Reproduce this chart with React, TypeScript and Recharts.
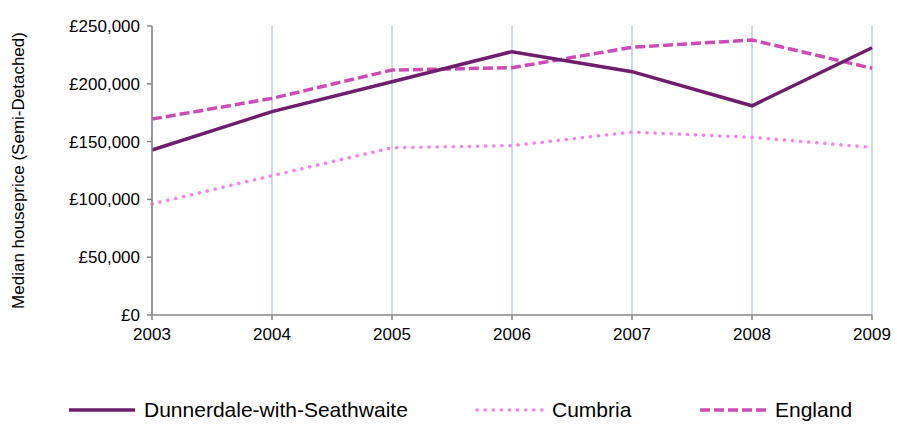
import React from 'react';
import { LineChart, Line, XAxis, YAxis, CartesianGrid, Legend } from 'recharts';

const years = ['2003', '2004', '2005', '2006', '2007', '2008', '2009'];
const dunnerdale = [142700, 175900, 201800, 227800, 210500, 181000, 231200];
const cumbria = [96000, 120500, 144700, 146500, 158300, 153700, 145000];
const england = [169500, 187400, 211900, 213900, 231600, 237900, 213400];
const yTicks = [0, 50000, 100000, 150000, 200000, 250000];

const data = years.map((y, i) => ({
  year: y,
  dunnerdale: dunnerdale[i],
  cumbria: cumbria[i],
  england: england[i],
}));

const FONT = '"Liberation Sans", Arial, sans-serif';

const fmt = (v: number) => '£' + v.toLocaleString('en-GB');

const legendItems = [
  { name: 'Dunnerdale-with-Seathwaite', color: '#6E1E6C', dash: undefined as string | undefined, cap: 'butt', left: 67 },
  { name: 'Cumbria', color: '#F47FF0', dash: '0.1 8', cap: 'round', left: 475 },
  { name: 'England', color: '#CC4BB4', dash: '10 4', cap: 'butt', left: 698 },
];

const renderLegend = () => (
  <div style={{ position: 'relative', width: 897, height: 29, fontFamily: FONT, fontSize: 21, color: '#000' }}>
    {legendItems.map((it) => (
      <div key={it.name} style={{ position: 'absolute', left: it.left, top: 0, height: 29, display: 'flex', alignItems: 'center', whiteSpace: 'nowrap' }}>
        <svg width={69} height={10} style={{ marginRight: 8, display: 'block' }}>
          <line x1={2} y1={5} x2={68} y2={5} stroke={it.color} strokeWidth={3.5} strokeDasharray={it.dash} strokeLinecap={it.cap as any} />
        </svg>
        <span>{it.name}</span>
      </div>
    ))}
  </div>
);

export default function App() {
  return (
    <div style={{ position: 'absolute', left: 0, top: 0, width: 897, height: 424, background: '#fff' }}>
      <LineChart width={897} height={424} data={data} margin={{ top: 26, right: 25, bottom: 0, left: 0 }}>
        <CartesianGrid vertical horizontal={false} stroke="#B9CDE5" strokeWidth={1.5} />
        <XAxis
          dataKey="year"
          stroke="#868686"
          strokeWidth={1.5}
          tickSize={5}
          tickMargin={8}
          height={80}
          tick={{ fill: '#000', fontSize: 17, fontFamily: FONT }}
          interval={0}
        />
        <YAxis
          domain={[0, 250000]}
          ticks={yTicks}
          tickFormatter={fmt}
          width={152}
          stroke="#868686"
          strokeWidth={1.5}
          tickSize={5}
          tickMargin={7}
          tick={{ fill: '#000', fontSize: 17, fontFamily: FONT }}
          label={{
            value: 'Median houseprice (Semi-Detached)',
            angle: -90,
            position: 'insideLeft',
            offset: 18,
            style: { textAnchor: 'middle', fill: '#000', fontSize: 17, fontFamily: FONT },
          }}
        />
        <Legend
          verticalAlign="bottom"
          content={renderLegend}
          wrapperStyle={{ left: 0, top: 395, bottom: 'auto', width: 897, height: 29 }}
        />
        <Line dataKey="cumbria" stroke="#F47FF0" strokeWidth={3.5} strokeDasharray="0.1 8" strokeLinecap="round" dot={false} isAnimationActive={false} />
        <Line dataKey="england" stroke="#CC4BB4" strokeWidth={3.5} strokeDasharray="10 4" dot={false} isAnimationActive={false} />
        <Line dataKey="dunnerdale" stroke="#6E1E6C" strokeWidth={3.5} dot={false} isAnimationActive={false} />
      </LineChart>
    </div>
  );
}
